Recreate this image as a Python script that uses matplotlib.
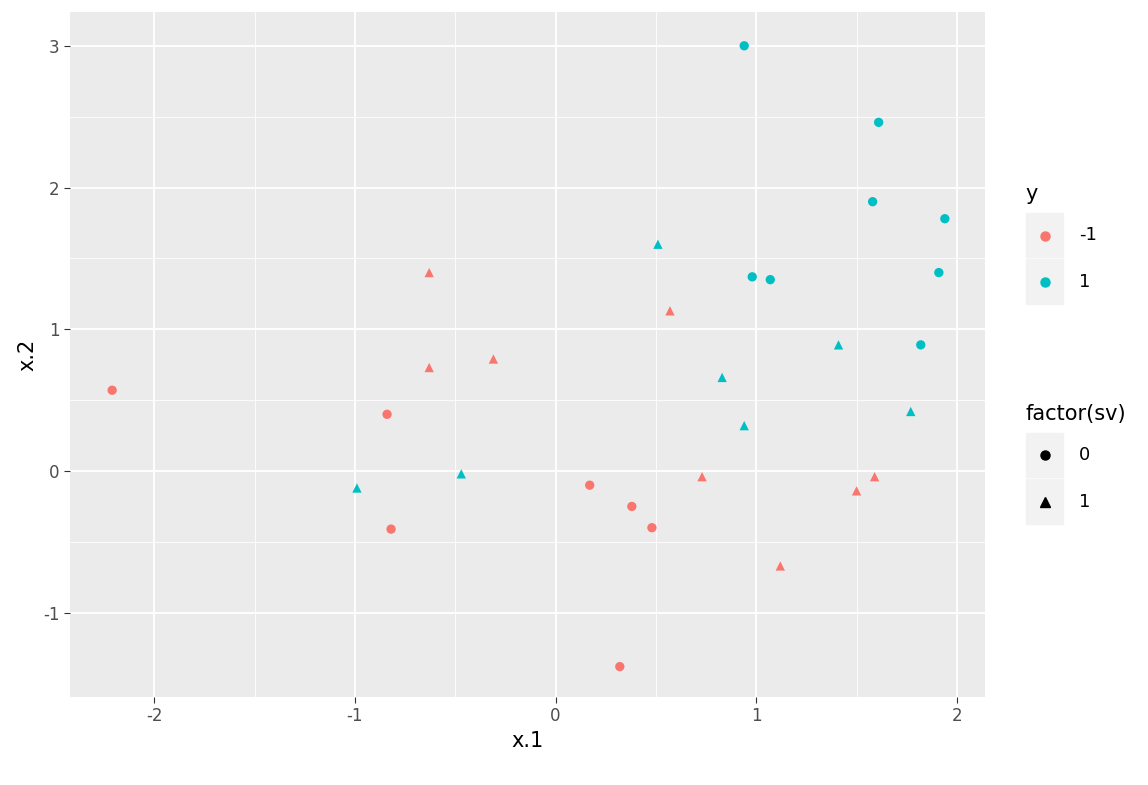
import matplotlib.pyplot as plt
from matplotlib.patches import Rectangle

plt.rcParams['axes.unicode_minus'] = False

# points: x.1, x.2, y class, sv
x1 = [-2.21, -0.84, -0.82, 0.17, 0.38, 0.48, 0.32,
      -0.63, -0.63, -0.31, 0.57, 0.73, 1.12, 1.50, 1.59,
      0.94, 1.61, 1.58, 1.94, 0.98, 1.07, 1.91, 1.82,
      0.51, 1.41, 0.83, 0.94, 1.77, -0.99, -0.47]
x2 = [0.57, 0.40, -0.41, -0.10, -0.25, -0.40, -1.38,
      1.40, 0.73, 0.79, 1.13, -0.04, -0.67, -0.14, -0.04,
      3.00, 2.46, 1.90, 1.78, 1.37, 1.35, 1.40, 0.89,
      1.60, 0.89, 0.66, 0.32, 0.42, -0.12, -0.02]
ycls = [-1] * 15 + [1] * 15
sv = [0] * 7 + [1] * 8 + [0] * 8 + [1] * 7

colors = {-1: '#F8766D', 1: '#00BFC4'}
markers = {0: 'o', 1: '^'}

fig = plt.figure(figsize=(11.48, 7.85), dpi=100)
ax = fig.add_axes([0.061, 0.112, 0.797, 0.873])
ax.set_facecolor('#EBEBEB')
for s in ax.spines.values():
    s.set_visible(False)
ax.set_xlim(-2.42, 2.14)
ax.set_ylim(-1.595, 3.24)
ax.set_xticks([-2, -1, 0, 1, 2])
ax.set_yticks([-1, 0, 1, 2, 3])
ax.set_xticks([-1.5, -0.5, 0.5, 1.5], minor=True)
ax.set_yticks([-0.5, 0.5, 1.5, 2.5], minor=True)
ax.grid(True, which='major', color='white', lw=1.3)
ax.grid(True, which='minor', color='white', lw=0.6)
ax.set_axisbelow(True)
ax.tick_params(which='both', length=4, color='#333333', labelsize=12, labelcolor='#4D4D4D')
ax.tick_params(which='minor', length=0)
ax.set_xlabel('x.1', fontsize=15)
ax.set_ylabel('x.2', fontsize=15)

for a, b, c, s in zip(x1, x2, ycls, sv):
    ax.scatter(a, b, color=colors[c], marker=markers[s], s=45, zorder=3, edgecolors='none')

# legends
fig.text(0.893, 0.745, 'y', fontsize=15)
for i, (lab, c) in enumerate([('-1', colors[-1]), ('1', colors[1])]):
    y0 = 0.672 - i * 0.059
    fig.patches.append(Rectangle((0.894, y0), 0.032, 0.057, transform=fig.transFigure,
                                 color='#F2F2F2', zorder=0))
    fig.add_artist(plt.Line2D([0.910], [y0 + 0.028], marker='o', color=c, ms=6.5,
                              transform=fig.transFigure, ls='none'))
    fig.text(0.94, y0 + 0.028, lab, fontsize=13, va='center')

fig.text(0.893, 0.465, 'factor(sv)', fontsize=15)
for i, (lab, m) in enumerate([('0', 'o'), ('1', '^')]):
    y0 = 0.392 - i * 0.059
    fig.patches.append(Rectangle((0.894, y0), 0.032, 0.057, transform=fig.transFigure,
                                 color='#F2F2F2', zorder=0))
    fig.add_artist(plt.Line2D([0.910], [y0 + 0.028], marker=m, color='black', ms=6.5,
                              transform=fig.transFigure, ls='none'))
    fig.text(0.94, y0 + 0.028, lab, fontsize=13, va='center')

fig.savefig('out.png', dpi=100)
